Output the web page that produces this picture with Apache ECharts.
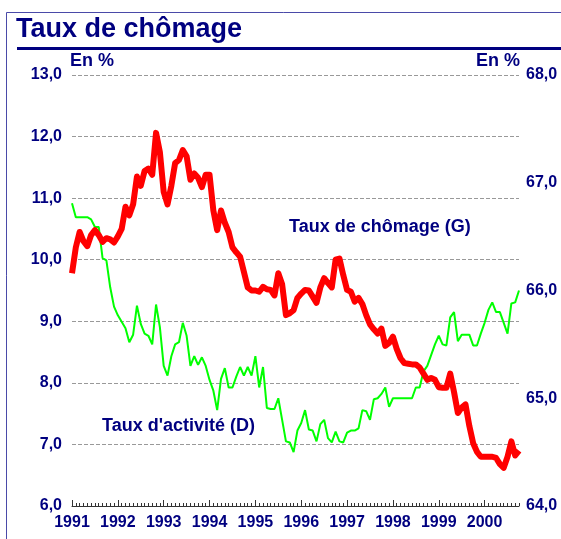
<!DOCTYPE html>
<html><head><meta charset="utf-8">
<script src="https://cdn.jsdelivr.net/npm/echarts/dist/echarts.min.js"></script>
<style>html,body{margin:0;padding:0;background:#fff}#c{width:561px;height:539px}</style>
</head><body><div id="c"></div>
<script>
// Year tick labels
const years = ['1991','1992','1993','1994','1995','1996','1997','1998','1999','2000'];
// Monthly categories (Jan 1991 .. Oct 2000)
const months = [];
years.forEach(y => { for (let m = 1; m <= 12; m++) months.push(y + '-' + (m < 10 ? '0' + m : m)); });
months.length = 118;

// Taux de chômage (left axis, %)
const chomage = [
9.78,10.2,10.45,10.3,10.22,10.4,10.48,10.4,10.29,10.35,10.33,10.28,
10.38,10.5,10.86,10.72,10.9,11.35,11.2,11.44,11.48,11.38,12.06,11.75,
11.1,10.9,11.2,11.57,11.62,11.78,11.68,11.3,11.4,11.33,11.18,11.38,
11.38,10.8,10.48,10.8,10.6,10.45,10.2,10.12,10.05,9.8,9.55,9.5,
9.5,9.48,9.56,9.52,9.51,9.42,9.78,9.6,9.1,9.13,9.18,9.38,
9.45,9.51,9.5,9.4,9.3,9.55,9.7,9.62,9.55,10.0,10.02,9.75,
9.51,9.48,9.32,9.38,9.28,9.1,8.95,8.87,8.8,8.88,8.6,8.65,
8.75,8.55,8.4,8.32,8.31,8.3,8.3,8.25,8.15,8.05,8.08,8.05,
7.93,7.92,7.92,8.15,7.85,7.51,7.6,7.65,7.3,7.02,6.88,6.8,
6.8,6.8,6.8,6.78,6.68,6.62,6.8,7.05,6.82,6.9];

// Taux d'activité (right axis, %)
const activite = [
66.81,66.68,66.68,66.68,66.68,66.66,66.59,66.59,66.3,66.28,66.03,65.85,
65.77,65.71,65.65,65.52,65.59,65.86,65.69,65.6,65.58,65.5,65.87,65.66,
65.3,65.21,65.39,65.5,65.52,65.7,65.58,65.3,65.39,65.31,65.38,65.3,
65.17,65.07,64.89,65.18,65.28,65.1,65.1,65.2,65.29,65.21,65.29,65.21,
65.39,65.1,65.29,64.91,64.9,64.9,65.0,64.8,64.6,64.59,64.5,64.7,
64.77,64.89,64.71,64.7,64.6,64.76,64.8,64.63,64.59,64.69,64.6,64.59,
64.68,64.7,64.7,64.72,64.89,64.88,64.8,64.99,65.0,65.04,65.1,64.92,
65.0,65.0,65.0,65.0,65.0,65.0,65.1,65.1,65.25,65.3,65.4,65.5,
65.58,65.5,65.49,65.75,65.8,65.53,65.59,65.59,65.59,65.49,65.49,65.6,
65.7,65.82,65.89,65.8,65.8,65.7,65.6,65.88,65.89,66.0];

const NAVY = '#000080';
const FONT = '"Liberation Sans", Arial, sans-serif';
const fmt = v => v.toFixed(1).replace('.', ',');

const chart = echarts.init(document.getElementById('c'), null, {renderer: 'canvas'});
chart.setOption({
  animation: false,
  backgroundColor: '#fff',
  textStyle: {fontFamily: FONT},
  grid: {left: 72, right: 42, top: 75, bottom: 33, containLabel: false},
  xAxis: [{
    type: 'category', data: months, boundaryGap: false,
    axisLine: {show: true, lineStyle: {color: '#333', width: 1}},
    axisTick: {show: true, inside: true, interval: 0, length: 3, lineStyle: {color: '#333'}},
    axisLabel: {interval: (i) => i % 12 === 0, formatter: (v, i) => years[Math.floor(i / 12)],
      color: NAVY, fontWeight: 'bold', fontSize: 16, fontFamily: FONT, margin: 9},
    splitLine: {show: false}
  }, {
    type: 'category', data: months, boundaryGap: false, position: 'bottom',
    axisLine: {show: false},
    axisTick: {show: true, inside: true, interval: (i) => i % 12 === 0, length: 6, lineStyle: {color: '#333'}},
    axisLabel: {show: false}, splitLine: {show: false}
  }],
  yAxis: [{
    type: 'value', min: 6, max: 13, interval: 1, position: 'left',
    axisLine: {show: false}, axisTick: {show: false},
    axisLabel: {formatter: fmt, color: NAVY, fontWeight: 'bold', fontSize: 16, fontFamily: FONT, margin: 10},
    splitLine: {show: true, lineStyle: {color: '#999', type: [4, 2], width: 1}}
  }, {
    type: 'value', min: 64, max: 68, interval: 1, position: 'right',
    axisLine: {show: false}, axisTick: {show: false},
    axisLabel: {formatter: fmt, color: NAVY, fontWeight: 'bold', fontSize: 16, fontFamily: FONT, margin: 7},
    splitLine: {show: false}
  }],
  series: [{
    name: "Taux d'activité (D)", type: 'line', yAxisIndex: 1, data: activite,
    showSymbol: false, symbol: 'none', lineStyle: {color: '#00ff00', width: 2}, z: 2
  }, {
    name: 'Taux de chômage (G)', type: 'line', yAxisIndex: 0, data: chomage,
    showSymbol: false, symbol: 'none', lineStyle: {color: '#ff0000', width: 6, join: 'round'}, z: 3
  }],
  graphic: [
    {type: 'line', shape: {x1: 6.5, y1: 12.5, x2: 561, y2: 12.5}, style: {stroke: '#4a4aa8', lineWidth: 1}},
    {type: 'line', shape: {x1: 6.5, y1: 12.5, x2: 6.5, y2: 539}, style: {stroke: '#4a4aa8', lineWidth: 1}},
    {type: 'text', left: 16, top: 16, style: {text: 'Taux de chômage', fill: NAVY, font: 'bold 27px ' + FONT}},
    {type: 'rect', shape: {x: 17, y: 47, width: 544, height: 3}, style: {fill: NAVY}},
    {type: 'text', left: 70, top: 52, style: {text: 'En %', fill: NAVY, font: 'bold 18px ' + FONT}},
    {type: 'text', right: 41, top: 52, style: {text: 'En %', fill: NAVY, font: 'bold 18px ' + FONT}},
    {type: 'text', left: 289, top: 218, style: {text: 'Taux de chômage (G)', fill: NAVY, font: 'bold 18px ' + FONT}},
    {type: 'text', left: 102, top: 417, style: {text: "Taux d'activité (D)", fill: NAVY, font: 'bold 18px ' + FONT}}
  ]
});
</script></body></html>
